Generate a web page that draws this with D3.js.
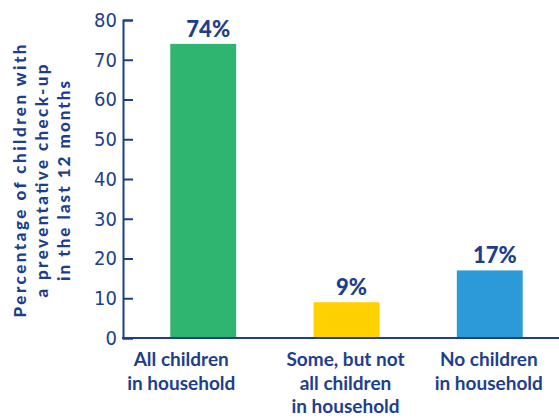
<!DOCTYPE html>
<html>
<head>
<meta charset="utf-8">
<script src="https://cdn.jsdelivr.net/npm/d3@7"></script>
<style>
  body { margin: 0; background: #fff; }
  #chart text { fill: #1c3f8c; }
</style>
</head>
<body>
<div id="chart"></div>
<script>
const categories = [
  ["All children", "in household"],
  ["Some, but not", "all children", "in household"],
  ["No children", "in household"]
];
const values = [74, 9, 17];
const barColors = ["#2fb56f", "#ffd100", "#2d9ad8"];
const yTicks = [0, 10, 20, 30, 40, 50, 60, 70, 80];
const yTitle = ["Percentage of children with", "a preventative check-up", "in the last 12 months"];

const navy = "#1c3f8c";
const width = 559, height = 418;

const svg = d3.select("#chart").append("svg")
  .attr("width", width)
  .attr("height", height);

const x = d3.scaleBand()
  .domain(d3.range(values.length))
  .range([123, 570])
  .paddingInner(0.54)
  .paddingOuter(0.33);

const y = d3.scaleLinear().domain([0, 80]).range([338, 20]);

// bars
svg.append("g")
  .selectAll("rect")
  .data(values)
  .join("rect")
  .attr("x", (d, i) => x(i))
  .attr("y", d => y(d))
  .attr("width", x.bandwidth())
  .attr("height", d => y(0) - y(d))
  .attr("fill", (d, i) => barColors[i]);

// y axis
const yAxis = svg.append("g")
  .attr("transform", "translate(123,0)")
  .call(d3.axisLeft(y).tickValues(yTicks).tickSizeInner(-10).tickSizeOuter(-10).tickPadding(6));
yAxis.select(".domain").attr("stroke", navy).attr("stroke-width", 2);
yAxis.selectAll(".tick line").attr("stroke", navy).attr("stroke-width", 2);
yAxis.selectAll(".tick text")
  .attr("font-family", "'Liberation Sans Narrow', 'DejaVu Sans Condensed', sans-serif")
  .attr("font-size", 20)
  .attr("fill", navy);

// baseline
svg.append("line")
  .attr("x1", 122).attr("x2", width)
  .attr("y1", y(0)).attr("y2", y(0))
  .attr("stroke", navy).attr("stroke-width", 2);

// value labels
svg.append("g")
  .selectAll("text")
  .data(values)
  .join("text")
  .attr("x", (d, i) => x(i) + x.bandwidth() / 2 + 5)
  .attr("y", d => y(d) - 7)
  .attr("text-anchor", "middle")
  .attr("font-family", "Lato, sans-serif")
  .attr("font-weight", 900)
  .attr("font-size", 22)
  .text(d => d + "%");

// category labels
const cat = svg.append("g")
  .selectAll("text")
  .data(categories)
  .join("text")
  .attr("x", (d, i) => x(i) + x.bandwidth() / 2 - (i === 0 ? 22 : 1))
  .attr("y", 366)
  .attr("text-anchor", "middle")
  .attr("font-family", "Lato, sans-serif")
  .attr("font-weight", 700)
  .attr("font-size", 19);
cat.selectAll("tspan")
  .data(d => d)
  .join("tspan")
  .attr("x", function () { return this.parentNode.getAttribute("x"); })
  .attr("dy", (d, i) => i === 0 ? 0 : 23.5)
  .text(d => d);

// y title
const lens = [273, 233, 200];
svg.append("g")
  .attr("transform", "translate(0,181) rotate(-90)")
  .selectAll("text")
  .data(yTitle)
  .join("text")
  .attr("x", 0)
  .attr("y", (d, i) => 26 + i * 22)
  .attr("text-anchor", "middle")
  .attr("font-family", "Lato, sans-serif")
  .attr("font-weight", 900)
  .attr("font-size", 17)
  .attr("textLength", (d, i) => lens[i])
  .attr("lengthAdjust", "spacing")
  .text(d => d);
</script>
</body>
</html>
